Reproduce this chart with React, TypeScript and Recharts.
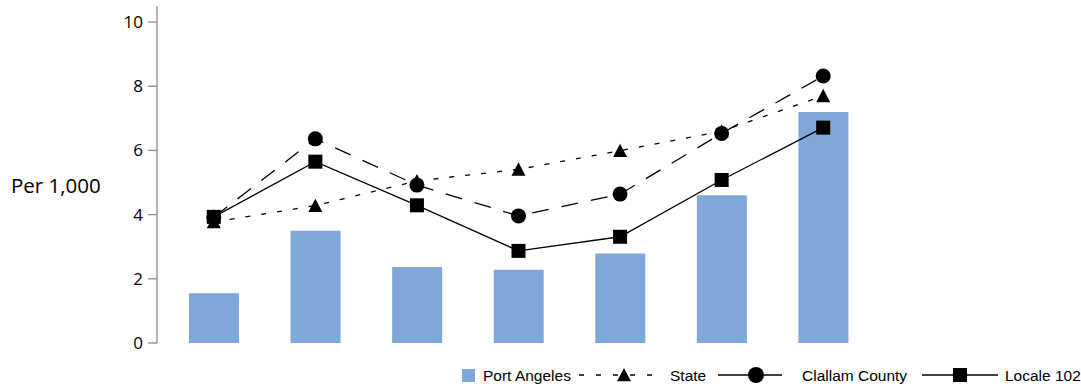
import React from "react";
import { ComposedChart, Bar, Line, XAxis, YAxis } from "recharts";

const categories = ["1", "2", "3", "4", "5", "6", "7"];
const portAngeles = [1.55, 3.5, 2.37, 2.28, 2.79, 4.6, 7.2];
const stateRate = [3.77, 4.28, 5.05, 5.41, 5.99, 6.6, 7.7];
const clallam = [3.92, 6.36, 4.92, 3.96, 4.64, 6.53, 8.32];
const locale102 = [3.93, 5.65, 4.29, 2.87, 3.31, 5.08, 6.71];
const yTicks = [0, 2, 4, 6, 8, 10];
const seriesNames = ["Port Angeles", "State", "Clallam County", "Locale 102"];

const data = categories.map((name, i) => ({
  name,
  portAngeles: portAngeles[i],
  state: stateRate[i],
  clallam: clallam[i],
  locale: locale102[i],
}));

const BAR_COLOR = "#7FA7D9";
const AXIS_COLOR = "#8C8C8C";
const FONT = "'Open Sans', sans-serif";
const LEGEND_FONT = "'Liberation Sans', Arial, sans-serif";

const triangle = (cx: number, cy: number, s = 7) =>
  `M${cx},${cy - s} L${cx + s},${cy + s * 0.9} L${cx - s},${cy + s * 0.9} Z`;

const TriangleDot = (props: any) => {
  const { cx, cy, index } = props;
  return <path key={`tri-${index}`} d={triangle(cx, cy)} fill="#000" />;
};

const CircleDot = (props: any) => {
  const { cx, cy, index } = props;
  return <circle key={`cir-${index}`} cx={cx} cy={cy} r={7.5} fill="#000" />;
};

const SquareDot = (props: any) => {
  const { cx, cy, index } = props;
  return <rect key={`sq-${index}`} x={cx - 7} y={cy - 7} width={14} height={14} fill="#000" />;
};

const yLabel = () => (
  <text x={11} y={193} fontSize={20.5} fontFamily={FONT} fill="#000">
    Per 1,000
  </text>
);

// legend drawn as an overlay so it doesn't shrink the plot area
const Legend = () => (
  <svg width={1081} height={30} style={{ position: "absolute", left: 0, top: 361 }}>
    <g fontFamily={LEGEND_FONT} fontSize={15.5} fill="#000">
      <rect x={462} y={8} width={13} height={13} fill={BAR_COLOR} />
      <text x={483} y={20}>{seriesNames[0]}</text>

      <line x1={579} y1={14} x2={658} y2={14} stroke="#000" strokeWidth={1.3} strokeDasharray="5 12" />
      <path d={triangle(624, 14)} fill="#000" />
      <text x={670} y={20}>{seriesNames[1]}</text>

      <line x1={718} y1={14} x2={782} y2={14} stroke="#000" strokeWidth={1.3} />
      <circle cx={756} cy={14} r={8} fill="#000" />
      <text x={802} y={20}>{seriesNames[2]}</text>

      <line x1={922} y1={14} x2={998} y2={14} stroke="#000" strokeWidth={1.3} />
      <rect x={953} y={7} width={14} height={14} fill="#000" />
      <text x={1005} y={20}>{seriesNames[3]}</text>
    </g>
  </svg>
);

export default function App() {
  return (
    <div style={{ position: "absolute", left: 0, top: 0, width: 1081, height: 388, background: "#fff" }}>
      <ComposedChart
        width={1081}
        height={388}
        data={data}
        margin={{ top: 6, right: 201, bottom: 45, left: 0 }}
      >
        <XAxis dataKey="name" hide padding={{ left: 6, right: 6 }} />
        <YAxis
          width={157}
          type="number"
          domain={[0, 10.5]}
          ticks={yTicks}
          tickSize={9}
          tickMargin={5}
          axisLine={{ stroke: AXIS_COLOR, strokeWidth: 1.3 }}
          tickLine={{ stroke: AXIS_COLOR, strokeWidth: 1.3 }}
          tick={{ fontSize: 17, fontFamily: FONT, fill: "#000" }}
          label={{ content: yLabel }}
        />
        <Bar dataKey="portAngeles" name={seriesNames[0]} fill={BAR_COLOR} barSize={50} isAnimationActive={false} />
        <Line
          dataKey="state"
          name={seriesNames[1]}
          type="linear"
          stroke="#000"
          strokeWidth={1.3}
          strokeDasharray="5 11"
          dot={TriangleDot}
          activeDot={false}
          isAnimationActive={false}
        />
        <Line
          dataKey="clallam"
          name={seriesNames[2]}
          type="linear"
          stroke="#000"
          strokeWidth={1.3}
          strokeDasharray="17 13"
          dot={CircleDot}
          activeDot={false}
          isAnimationActive={false}
        />
        <Line
          dataKey="locale"
          name={seriesNames[3]}
          type="linear"
          stroke="#000"
          strokeWidth={1.3}
          dot={SquareDot}
          activeDot={false}
          isAnimationActive={false}
        />
      </ComposedChart>
      <Legend />
    </div>
  );
}
